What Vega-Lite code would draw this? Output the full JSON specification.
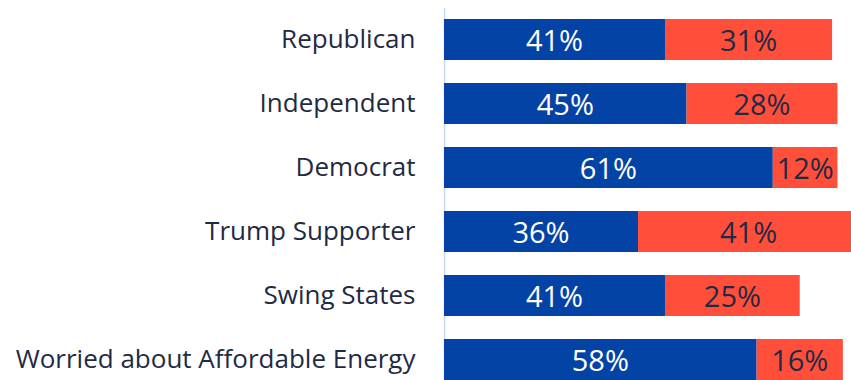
{
  "$schema": "https://vega.github.io/schema/vega-lite/v6.json",
  "width": 407,
  "height": 372.5,
  "autosize": {"type": "none"},
  "padding": {"left": 444, "top": 7.5, "right": 0, "bottom": 0},
  "background": "white",
  "config": {"view": {"stroke": null}, "font": "Open Sans"},
  "data": {
    "values": [
      {"group": "Republican", "response": "Support", "order": 1, "value": 41},
      {"group": "Republican", "response": "Oppose", "order": 2, "value": 31},
      {"group": "Independent", "response": "Support", "order": 1, "value": 45},
      {"group": "Independent", "response": "Oppose", "order": 2, "value": 28},
      {"group": "Democrat", "response": "Support", "order": 1, "value": 61},
      {"group": "Democrat", "response": "Oppose", "order": 2, "value": 12},
      {"group": "Trump Supporter", "response": "Support", "order": 1, "value": 36},
      {"group": "Trump Supporter", "response": "Oppose", "order": 2, "value": 41},
      {"group": "Swing States", "response": "Support", "order": 1, "value": 41},
      {"group": "Swing States", "response": "Oppose", "order": 2, "value": 25},
      {"group": "Worried about Affordable Energy", "response": "Support", "order": 1, "value": 58},
      {"group": "Worried about Affordable Energy", "response": "Oppose", "order": 2, "value": 16}
    ]
  },
  "encoding": {
    "y": {
      "field": "group",
      "type": "nominal",
      "sort": null,
      "title": null,
      "scale": {"range": [0, 384], "paddingInner": 0.36, "paddingOuter": 0.18},
      "axis": {
        "ticks": false,
        "domainColor": "#C6DBF6",
        "domainWidth": 1.5,
        "labelFontSize": 26,
        "labelFontWeight": 400,
        "labelColor": "#1F2A44",
        "labelPadding": 29,
        "labelLimit": 500
      }
    }
  },
  "layer": [
    {
      "mark": {"type": "bar", "clip": true},
      "encoding": {
        "x": {
          "field": "value",
          "type": "quantitative",
          "stack": "zero",
          "scale": {"domain": [0, 100], "range": [0, 539], "nice": false},
          "axis": null
        },
        "order": {"field": "order"},
        "color": {
          "field": "response",
          "type": "nominal",
          "scale": {"domain": ["Support", "Oppose"], "range": ["#0443A6", "#FF4F3B"]},
          "legend": null
        }
      }
    },
    {
      "mark": {"type": "text", "fontSize": 29, "fontWeight": 400, "baseline": "middle", "align": "center", "dy": 2, "text": {"expr": "datum.value + '%'"}},
      "encoding": {
        "x": {
          "field": "value",
          "type": "quantitative",
          "stack": "zero",
          "bandPosition": 0.5
        },
        "order": {"field": "order"},
        "color": {
          "condition": {"test": "datum.response === 'Support'", "value": "white"},
          "value": "#1F2A44"
        }
      }
    }
  ]
}
